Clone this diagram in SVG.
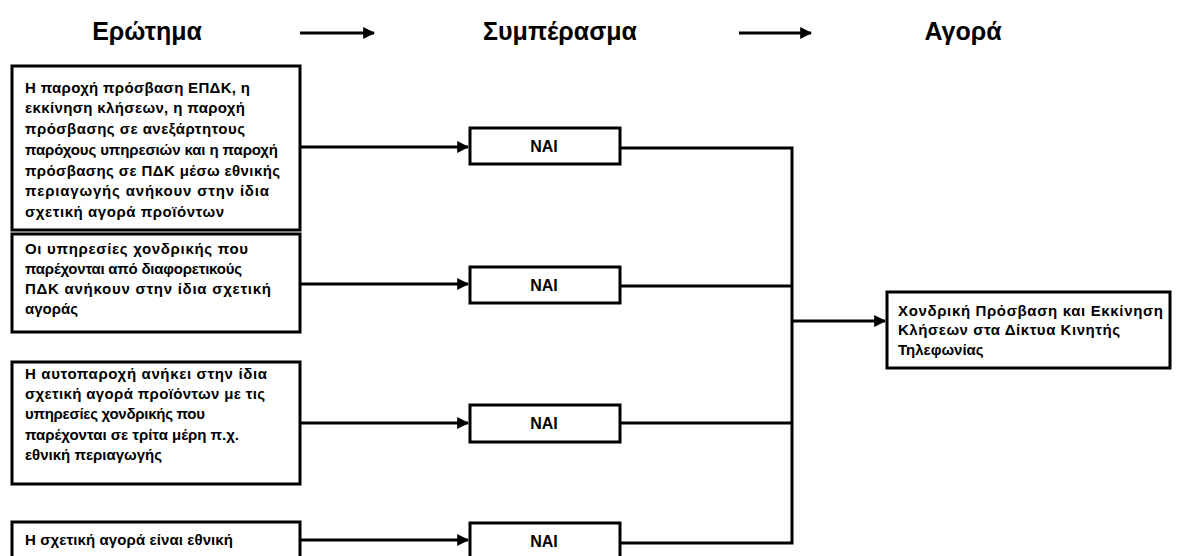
<svg xmlns="http://www.w3.org/2000/svg" width="1179" height="556" viewBox="0 0 1179 556">
  <style>
    .box { fill: #ffffff; stroke: #000000; stroke-width: 3; }
    .hdr { font-family: "Liberation Sans", Arial, sans-serif; font-weight: bold; font-size: 25px; fill: #000; text-anchor: middle; }
    .txt { font-family: "Liberation Sans", Arial, sans-serif; font-weight: bold; font-size: 15px; fill: #000; }
    .yes { font-family: "Liberation Sans", Arial, sans-serif; font-weight: bold; font-size: 16px; fill: #000; text-anchor: middle; }
    .wire { fill: none; stroke: #000000; stroke-width: 3; }
    .arrow { fill: none; stroke: #000000; stroke-width: 3; marker-end: url(#head); }
  </style>
  <defs>
    <marker id="head" viewBox="0 0 10 10" refX="9" refY="5" markerWidth="4" markerHeight="4" orient="auto" markerUnits="strokeWidth">
      <path d="M0,0 L10,5 L0,10 z" fill="#000"/>
    </marker>
  </defs>
  <rect width="1179" height="556" fill="#ffffff"/>

  <!-- column headings -->
  <g id="headings">
    <text class="hdr" x="147" y="40">Ερώτημα</text>
    <text class="hdr" x="560" y="40">Συμπέρασμα</text>
    <text class="hdr" x="963" y="40">Αγορά</text>
    <line class="arrow" x1="300" y1="33" x2="374" y2="33"/>
    <line class="arrow" x1="739" y1="33" x2="811" y2="33"/>
  </g>

  <!-- questions -->
  <g id="q1">
    <rect class="box" x="12" y="66" width="288" height="164"/>
    <text class="txt" x="25" y="93" textLength="225" lengthAdjust="spacing">Η παροχή πρόσβαση ΕΠΔΚ, η</text>
    <text class="txt" x="25" y="113" textLength="220" lengthAdjust="spacing">εκκίνηση κλήσεων, η παροχή</text>
    <text class="txt" x="25" y="134" textLength="220" lengthAdjust="spacing">πρόσβασης σε ανεξάρτητους</text>
    <text class="txt" x="25" y="155" textLength="253" lengthAdjust="spacing">παρόχους υπηρεσιών και η  παροχή</text>
    <text class="txt" x="25" y="176" textLength="255" lengthAdjust="spacing">πρόσβασης σε ΠΔΚ μέσω εθνικής</text>
    <text class="txt" x="25" y="196" textLength="244" lengthAdjust="spacing">περιαγωγής ανήκουν στην ίδια</text>
    <text class="txt" x="25" y="217" textLength="199" lengthAdjust="spacing">σχετική αγορά προϊόντων</text>
  </g>
  <g id="q2">
    <rect class="box" x="12" y="234" width="288" height="98"/>
    <text class="txt" x="25" y="254" textLength="223" lengthAdjust="spacing">Οι υπηρεσίες χονδρικής που</text>
    <text class="txt" x="25" y="274" textLength="217" lengthAdjust="spacing">παρέχονται από διαφορετικούς</text>
    <text class="txt" x="25" y="294" textLength="246" lengthAdjust="spacing">ΠΔΚ ανήκουν στην ίδια σχετική</text>
    <text class="txt" x="25" y="314">αγοράς</text>
  </g>
  <g id="q3">
    <rect class="box" x="12" y="362" width="288" height="122"/>
    <text class="txt" x="25" y="379" textLength="242" lengthAdjust="spacing">Η αυτοπαροχή ανήκει στην ίδια</text>
    <text class="txt" x="25" y="399" textLength="240" lengthAdjust="spacing">σχετική αγορά προϊόντων με τις</text>
    <text class="txt" x="25" y="419" textLength="180" lengthAdjust="spacing">υπηρεσίες χονδρικής που</text>
    <text class="txt" x="25" y="440" textLength="214" lengthAdjust="spacing">παρέχονται σε τρίτα μέρη π.χ.</text>
    <text class="txt" x="25" y="460">εθνική περιαγωγής</text>
  </g>
  <g id="q4">
    <rect class="box" x="12" y="522" width="288" height="50"/>
    <text class="txt" x="25" y="545" textLength="208" lengthAdjust="spacing">Η σχετική αγορά είναι εθνική</text>
  </g>

  <!-- answers -->
  <g id="a1">
    <rect class="box" x="470" y="128" width="150" height="36"/>
    <text class="yes" x="544" y="152">ΝΑΙ</text>
  </g>
  <g id="a2">
    <rect class="box" x="470" y="267" width="150" height="36"/>
    <text class="yes" x="544" y="291">ΝΑΙ</text>
  </g>
  <g id="a3">
    <rect class="box" x="470" y="405" width="150" height="37"/>
    <text class="yes" x="544" y="429">ΝΑΙ</text>
  </g>
  <g id="a4">
    <rect class="box" x="470" y="523" width="150" height="40"/>
    <text class="yes" x="544" y="547">ΝΑΙ</text>
  </g>

  <!-- market -->
  <g id="market">
    <rect class="box" x="887" y="292" width="283" height="76"/>
    <text class="txt" x="898" y="316" textLength="265" lengthAdjust="spacing">Χονδρική Πρόσβαση και Εκκίνηση</text>
    <text class="txt" x="898" y="335" textLength="222" lengthAdjust="spacing">Κλήσεων στα Δίκτυα Κινητής</text>
    <text class="txt" x="898" y="355">Τηλεφωνίας</text>
  </g>

  <!-- connectors -->
  <g id="connectors">
    <line class="arrow" x1="300" y1="147" x2="468" y2="147"/>
    <line class="arrow" x1="300" y1="284" x2="468" y2="284"/>
    <line class="arrow" x1="300" y1="423" x2="468" y2="423"/>
    <line class="arrow" x1="300" y1="540" x2="468" y2="540"/>
    <polyline class="wire" points="620,148 792,148 792,543 620,543"/>
    <line class="wire" x1="620" y1="286" x2="792" y2="286"/>
    <line class="wire" x1="620" y1="423" x2="792" y2="423"/>
    <line class="arrow" x1="792" y1="321" x2="885" y2="321"/>
  </g>
</svg>
